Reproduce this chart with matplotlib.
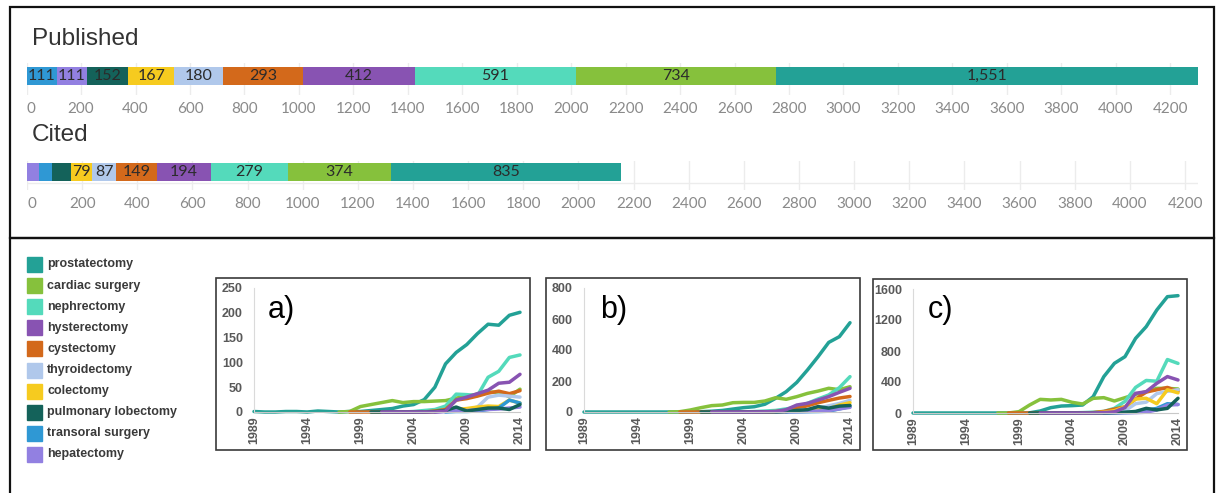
import numpy as np
import matplotlib.pyplot as plt
from matplotlib.patches import Rectangle

W, H = 1220, 493
N = None

procedures = ['prostatectomy', 'cardiac surgery', 'nephrectomy', 'hysterectomy', 'cystectomy',
              'thyroidectomy', 'colectomy', 'pulmonary lobectomy', 'transoral surgery', 'hepatectomy']
colors = ['#23a196', '#86c13c', '#54dabb', '#8853b2', '#d3691b',
          '#b0c8eb', '#f6cb1f', '#14625a', '#2f98d4', '#9280e1']
color_of = dict(zip(procedures, colors))

# stacked bars (left to right)
pub_order = ['transoral surgery', 'hepatectomy', 'pulmonary lobectomy', 'colectomy', 'thyroidectomy',
             'cystectomy', 'hysterectomy', 'nephrectomy', 'cardiac surgery', 'prostatectomy']
published = [111, 111, 152, 167, 180, 293, 412, 591, 734, 1551]
cit_order = ['hepatectomy', 'transoral surgery', 'pulmonary lobectomy', 'colectomy', 'thyroidectomy',
             'cystectomy', 'hysterectomy', 'nephrectomy', 'cardiac surgery', 'prostatectomy']
cited = [42, 50, 66, 79, 87, 149, 194, 279, 374, 835]
bar_ticks = list(range(0, 4201, 200))

years = list(range(1989, 2015))
year_ticks = [1989, 1994, 1999, 2004, 2009, 2014]

# yearly series, same order as `procedures`
series_a = [
    [1, 0, 0, 1, 1, 0, 2, 1, 0, 1, 1, 3, 5, 7, 12, 15, 25, 50, 97, 120, 136, 158, 177, 175, 195, 201],
    [N] * 8 + [0, 1, 11, 15, 19, 23, 19, 21, 21, 22, 23, 28, 32, 36, 40, 40, 31, 46],
    [N] * 14 + [0, 1, 3, 5, 12, 36, 35, 33, 70, 82, 110, 115],
    [N] * 12 + [0, 0, 0, 0, 0, 0, 2, 24, 30, 37, 44, 58, 60, 76],
    [N] * 9 + [0, 0, 0, 0, 0, 0, 0, 0, 2, 5, 24, 27, 32, 38, 42, 37, 43],
    [N] * 17 + [0, 1, 3, 4, 10, 30, 34, 32, 30],
    [N] * 16 + [0, 1, 2, 5, 7, 10, 12, 11, 24, 18],
    [N] * 11 + [0, 0, 0, 0, 0, 0, 1, 3, 10, 2, 5, 8, 8, 5, 15],
    [N] * 18 + [0, 1, 1, 2, 5, 8, 24, 18],
    [N] * 17 + [0, 1, 3, 3, 4, 5, 6, 8, 10],
]
series_b = [
    [0] * 10 + [1, 2, 5, 10, 19, 28, 34, 50, 88, 131, 191, 271, 357, 449, 486, 576],
    [N] * 8 + [0, 2, 13, 28, 41, 45, 60, 62, 62, 71, 92, 82, 99, 120, 135, 153, 144, 163],
    [N] * 14 + [0, 1, 3, 6, 10, 20, 30, 56, 84, 110, 157, 228],
    [N] * 12 + [0, 0, 0, 0, 0, 1, 3, 15, 45, 56, 77, 99, 127, 153],
    [N] * 9 + [0, 0, 0, 0, 0, 0, 0, 0, 1, 3, 10, 25, 40, 60, 75, 90, 100],
    [N] * 18 + [0, 3, 8, 15, 25, 40, 55, 75],
    [N] * 17 + [0, 1, 3, 6, 10, 15, 20, 45, 60],
    [N] * 11 + [0, 0, 0, 0, 0, 0, 0, 0, 3, 10, 15, 35, 25, 38, 42],
    [N] * 19 + [0, 1, 2, 3, 5, 20, 35],
    [N] * 18 + [0, 1, 2, 4, 6, 10, 20, 30],
]
series_c = [
    [0] * 11 + [2, 26, 69, 90, 95, 103, 211, 469, 641, 727, 963, 1114, 1329, 1501, 1514],
    [N] * 8 + [0, 0, 17, 103, 176, 168, 176, 138, 116, 189, 198, 155, 198, 241, 275, 318, 318, 310],
    [N] * 14 + [0, 2, 5, 10, 20, 60, 150, 330, 420, 410, 690, 640],
    [N] * 12 + [0, 0, 0, 0, 0, 0, 5, 15, 70, 254, 275, 383, 470, 426],
    [N] * 9 + [0] * 8 + [5, 20, 50, 80, 180, 270, 300, 330, 280],
    [N] * 17 + [0, 5, 10, 30, 120, 140, 250, 280, 300],
    [N] * 16 + [0, 2, 10, 30, 80, 180, 190, 120, 300, 260],
    [N] * 11 + [0] * 8 + [5, 10, 20, 60, 40, 60, 190],
    [N] * 18 + [0, 2, 5, 10, 30, 60, 120, 110],
    [N] * 18 + [0, 1, 3, 5, 10, 40, 100, 110],
]


def fr(x0, y0, x1, y1):
    # pixel box -> figure fraction [left, bottom, width, height]
    return [x0 / W, 1 - y1 / H, (x1 - x0) / W, (y1 - y0) / H]


fig = plt.figure(figsize=(W / 100, H / 100), dpi=100)

# outer frames
fig.add_artist(Rectangle((10 / W, 1 - 238 / H), 1204 / W, 231 / H, transform=fig.transFigure,
                         fill=False, edgecolor='#111111', lw=1.6))
fig.add_artist(Rectangle((10 / W, -0.05), 1204 / W, 1 - 238 / H + 0.05, transform=fig.transFigure,
                         fill=False, edgecolor='#111111', lw=1.6))


def stacked(box, order, values, xmax, bar_y, base_y, title, title_y):
    ax = fig.add_axes(fr(*box))
    left = 0
    for name, v in zip(order, values):
        ax.barh(bar_y, v, left=left, height=18, color=color_of[name], zorder=2)
        if v >= 70:
            ax.text(left + v / 2, bar_y, f'{v:,}', ha='center', va='center',
                    fontsize=11.5, color='#2b2b2b', family='Lato', zorder=3)
        left += v
    if base_y is not None:
        ax.axhline(base_y, color='#ececec', lw=1, zorder=1)
    ax.set_xlim(0, xmax)
    ax.set_ylim(box[3], box[1])
    ax.set_xticks(bar_ticks)
    ax.set_yticks([])
    ax.grid(axis='x', color='#ececec', lw=1, zorder=0)
    ax.tick_params(axis='x', length=0, pad=5, labelsize=11, labelcolor='#8a8a8a')
    for lab in ax.get_xticklabels():
        lab.set_family('Lato')
    ax.get_xticklabels()[0].set_ha('left')
    for s in ax.spines.values():
        s.set_visible(False)
    fig.text(32 / W, 1 - title_y / H, title, fontsize=17.5, family='Liberation Sans',
             color='#333333', va='center')


stacked((26.6, 63, 1198, 95), pub_order, published, 4302, 76, None, 'Published', 39)
stacked((27, 161, 1198, 190), cit_order, cited, 4247, 172, 183, 'Cited', 135)

# legend
for i, name in enumerate(procedures):
    y = 264.5 + 21.1 * i
    fig.add_artist(Rectangle((27 / W, 1 - (y + 7.5) / H), 15 / W, 15 / H,
                             transform=fig.transFigure, color=color_of[name]))
    fig.text(47 / W, 1 - y / H, name, fontsize=9, fontweight='bold', family='Liberation Sans',
             color='#3a3a3a', va='center')

# small line charts
panels = [
    ((216, 278, 530, 450), (254, 288, 520, 412), 250, 50, series_a, 'a)', 268),
    ((546, 278, 860, 450), (584, 288, 850, 412), 800, 200, series_b, 'b)', 600),
    ((873, 279, 1187, 450), (913, 289, 1178, 413), 1600, 400, series_c, 'c)', 928),
]
draw_order = [0, 1, 2, 4, 5, 6, 8, 9, 7, 3]
tick_style = dict(fontsize=9, fontweight='bold', family='Liberation Sans', color='#595959')

for frame, box, ymax, ystep, series, tag, tag_x in panels:
    fx0, fy0, fx1, fy1 = frame
    fig.add_artist(Rectangle((fx0 / W, 1 - fy1 / H), (fx1 - fx0) / W, (fy1 - fy0) / H,
                             transform=fig.transFigure, fill=False, edgecolor='#3a3a3a', lw=1.2))
    ax = fig.add_axes(fr(*box))
    for k in draw_order:
        vals = np.array([np.nan if v is None else v for v in series[k]], dtype=float)
        ax.plot(years, vals, color=colors[k], lw=2.5, solid_capstyle='round',
                solid_joinstyle='round', clip_on=False)
    ax.set_xlim(1989, 2014)
    ax.set_ylim(0, ymax)
    ax.set_yticks(range(0, ymax + 1, ystep))
    ax.set_xticks(year_ticks)
    ax.set_yticklabels([str(v) for v in range(0, ymax + 1, ystep)], **tick_style)
    ax.set_xticklabels([str(y) for y in year_ticks], rotation=90, **tick_style)
    ax.tick_params(axis='y', length=0, pad=8)
    ax.tick_params(axis='x', length=0, pad=3)
    ax.spines['top'].set_visible(False)
    ax.spines['right'].set_visible(False)
    ax.spines['left'].set_color('#dadada')
    ax.spines['bottom'].set_color('#c8c8c8')
    ax.patch.set_alpha(0)
    fig.text(tag_x / W, 1 - 310 / H, tag, fontsize=22, family='Liberation Sans',
             color='black', va='center')

fig.savefig('out.png', dpi=100)
